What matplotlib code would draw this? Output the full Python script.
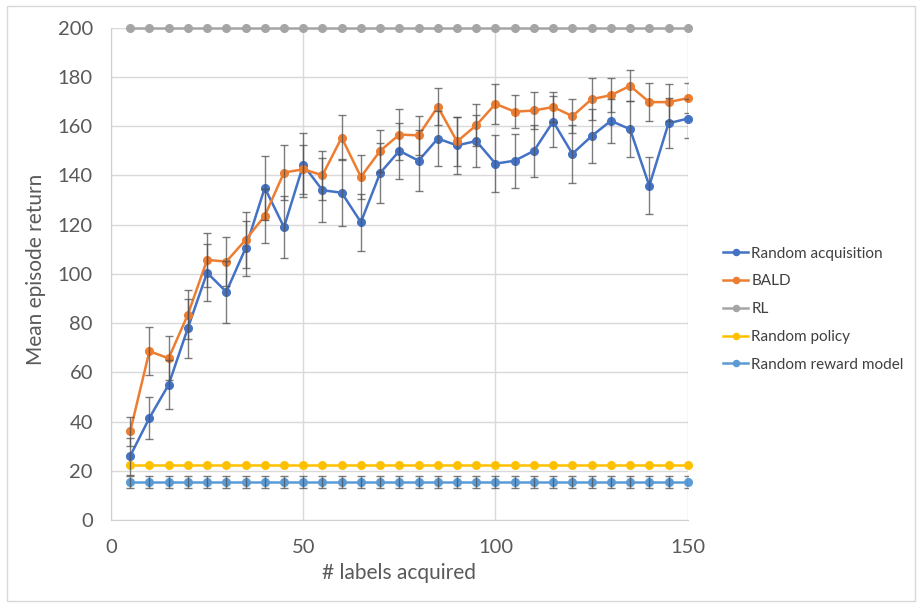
import matplotlib.pyplot as plt
import numpy as np

plt.rcParams["font.family"] = ["Lato", "DejaVu Sans"]

# x = number of labels acquired
labels = list(range(5, 155, 5))

random_acq = [26, 41.5, 55, 78, 100.5, 92.7, 110.4, 135, 119, 144.3,
              134, 133, 121, 141, 150, 146, 155, 152.2, 154, 144.8,
              146, 150, 161.9, 148.8, 156, 162.2, 158.8, 135.8, 161.2, 163.1]
random_acq_err = [7.5, 8.4, 10, 12, 11.7, 12.7, 11.3, 13, 12.5, 13,
                  13, 13.5, 11.5, 12, 11.5, 12.5, 11, 11.7, 10.7, 11.6,
                  11, 10.7, 10.5, 11.7, 11, 9, 11.5, 11.5, 10.2, 8]

bald = [36, 68.6, 65.7, 83.5, 105.7, 105, 113.8, 123.6, 141.2, 142.5,
        140.1, 155.4, 139.4, 150, 156.6, 156.3, 167.9, 153.8, 160.4, 169.1,
        165.9, 166.4, 167.8, 164.1, 171, 172.6, 176.4, 169.8, 169.8, 171.4]
bald_err = [6, 9.8, 9, 10, 11, 10, 11.3, 11, 11, 10,
            10, 9, 9, 8.5, 10.5, 8, 7.5, 10, 8.5, 8,
            6.6, 7.6, 6, 7, 8.5, 7, 6.3, 7.8, 7.5, 6]

rl = [200] * len(labels)
random_policy = [22.3] * len(labels)
random_reward = [15.5] * len(labels)
random_reward_err = [2.5] * len(labels)

series = [
    ("Random acquisition", random_acq, random_acq_err, "#4472C4"),
    ("BALD", bald, bald_err, "#ED7D31"),
    ("RL", rl, None, "#A5A5A5"),
    ("Random policy", random_policy, None, "#FFC000"),
    ("Random reward model", random_reward, random_reward_err, "#5B9BD5"),
]

fig = plt.figure(figsize=(9.17, 6.04), dpi=100)
ax = fig.add_axes([0.121, 0.139, 0.629, 0.815])

for name, vals, err, col in series:
    ax.plot(labels, vals, color=col, lw=1.8, marker="o", ms=5.5,
            label=name, zorder=3, clip_on=False)
    if err is not None:
        ax.errorbar(labels, vals, yerr=err, fmt="none", ecolor="#505050",
                    elinewidth=1, capsize=3, capthick=1, alpha=0.75, zorder=4)

ax.set_xlim(0, 150)
ax.set_ylim(0, 200)
ax.set_xticks([0, 50, 100, 150])
ax.set_yticks(range(0, 201, 20))
ax.grid(True, color="#D9D9D9", lw=1)
ax.set_axisbelow(True)
for s in ["top", "right"]:
    ax.spines[s].set_visible(False)
for s in ["left", "bottom"]:
    ax.spines[s].set_color("#D0D0D0")
ax.tick_params(length=0, labelsize=14.5, colors="#595959")
ax.tick_params(axis="x", pad=14)
ax.tick_params(axis="y", pad=13)
ax.set_xlabel("# labels acquired", fontsize=15, color="#595959")
ax.set_ylabel("Mean episode return", fontsize=15, color="#595959")
ax.xaxis.set_label_coords(0.5, -0.088)
ax.yaxis.set_label_coords(-0.113, 0.51)

leg = ax.legend(loc="center left", bbox_to_anchor=(0.775, 0.488),
                bbox_transform=fig.transFigure, frameon=False, fontsize=11,
                handlelength=1.65, labelspacing=0.9, handletextpad=0.2,
                borderpad=0.3, markerscale=0.8)
for t in leg.get_texts():
    t.set_color("#404040")

fig.patches.append(plt.Rectangle((0.008, 0.005), 0.99, 0.985, transform=fig.transFigure,
                                 fill=False, edgecolor="#D9D9D9", lw=1))

plt.savefig("out.png", dpi=100)
